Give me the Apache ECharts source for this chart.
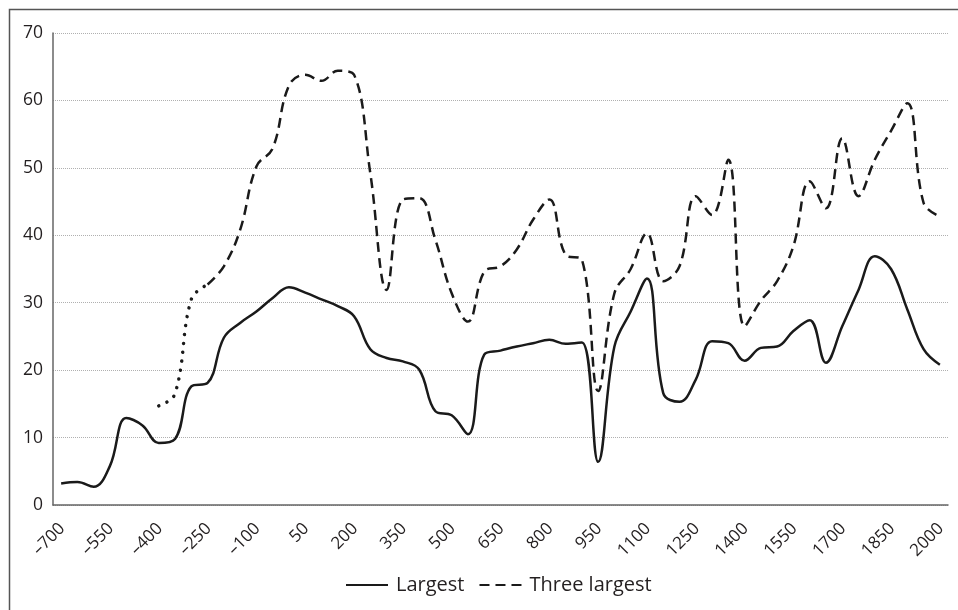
<!DOCTYPE html>
<html>
<head>
<meta charset="utf-8">
<script src="https://cdn.jsdelivr.net/npm/echarts@6/dist/echarts.min.js"></script>
<style>
html,body{margin:0;padding:0;background:#fff;}
#chart{width:958px;height:610px;}
</style>
</head>
<body>
<div id="chart"></div>
<script>
var years = [-700,-650,-600,-550,-500,-450,-400,-350,-300,-250,-200,-150,-100,-50,0,50,100,150,200,250,300,350,400,450,500,550,600,650,700,750,800,850,900,950,1000,1050,1100,1150,1200,1250,1300,1350,1400,1450,1500,1550,1600,1650,1700,1750,1800,1850,1900,1950,2000];

var largest = [3.2,3.4,2.7,5.8,12.9,11.8,9.2,9.8,17.6,18.1,24.8,27.0,28.7,30.7,32.3,31.5,30.5,29.5,28.0,23.1,21.8,21.3,20.1,13.9,13.3,10.5,22.3,22.9,23.5,24.0,24.5,23.9,24.1,6.4,23.5,28.7,33.6,16.6,15.3,18.6,24.3,24.0,21.4,23.3,23.5,25.8,27.4,21.1,26.5,31.9,36.9,35.0,29.0,23.1,20.8];

var threeLargestEarly = [null,null,null,null,null,null,14.7,16.5,30.5,32.7,null,null,null,null,null,null,null,null,null,null,null,null,null,null,null,null,null,null,null,null,null,null,null,null,null,null,null,null,null,null,null,null,null,null,null,null,null,null,null,null,null,null,null,null,null];

var threeLargest = [null,null,null,null,null,null,null,null,null,32.7,35.4,40.8,50.2,52.9,62.2,63.8,62.9,64.4,63.8,49.2,31.9,45.3,45.5,39.3,31.4,27.2,34.6,35.4,37.9,42.3,45.3,37.1,36.4,16.9,31.4,35.0,40.3,33.2,35.4,45.8,43.0,51.2,26.5,30.3,33.2,38.4,48.0,44.0,54.4,45.8,51.2,55.5,59.6,44.8,42.8];

var yTicks = [0,10,20,30,40,50,60,70];

var chart = echarts.init(document.getElementById('chart'), null, {renderer:'canvas'});
var font = 'Open Sans';
var ink = '#231f20';
chart.setOption({
  animation:false,
  backgroundColor:'#fff',
  color:['#1a1a1a','#1a1a1a','#1a1a1a'],
  graphic:[{
    type:'rect', left:7, top:7, z:-1,
    shape:{width:1000,height:1000},
    style:{fill:'none',stroke:'#555',lineWidth:1.5}
  }],
  grid:{left:53,right:10,top:33,bottom:105,containLabel:false},
  legend:{
    data:['Largest','Three largest'],
    bottom:10,
    left:340,
    itemWidth:42,
    itemHeight:14,
    itemGap:14,
    itemStyle:{opacity:0},
    textStyle:{fontFamily:font,fontSize:20,color:ink,padding:[0,0,0,3]}
  },
  xAxis:{
    type:'category',
    data:years,
    boundaryGap:true,
    axisLine:{lineStyle:{color:'#666',width:1.5}},
    axisTick:{show:false},
    axisLabel:{
      interval:2,
      rotate:45,
      margin:10,
      align:'right',
      verticalAlign:'top',
      padding:[0,7,0,0],
      fontFamily:font,
      fontSize:17,
      color:ink,
      formatter:function(v){ return String(v).replace('-', '\u2013'); }
    },
    splitLine:{show:false}
  },
  yAxis:{
    type:'value',
    min:yTicks[0],
    max:yTicks[yTicks.length-1],
    interval:10,
    axisLine:{show:true,lineStyle:{color:'#666',width:1.5}},
    axisTick:{show:false},
    axisLabel:{fontFamily:font,fontSize:17.5,color:ink,margin:10},
    splitLine:{show:true,lineStyle:{color:'#b0b0b0',type:'dotted',width:1}}
  },
  series:[
    {
      name:'Largest',
      type:'line',
      data:largest,
      smooth:0.4,
      symbol:'none',
      itemStyle:{color:'#1a1a1a'},
      lineStyle:{color:'#1a1a1a',width:2.5}
    },
    {
      name:'Three largest',
      type:'line',
      data:threeLargest,
      smooth:0.4,
      symbol:'none',
      itemStyle:{color:'#1a1a1a'},
      lineStyle:{color:'#1a1a1a',width:2.5,type:[10,6]}
    },
    {
      name:'Three largest early',
      type:'line',
      data:threeLargestEarly,
      smooth:0.4,
      symbol:'none',
      itemStyle:{color:'#1a1a1a'},
      lineStyle:{color:'#1a1a1a',width:3.5,type:[0.01,9],cap:'round'}
    }
  ]
});
</script>
</body>
</html>
